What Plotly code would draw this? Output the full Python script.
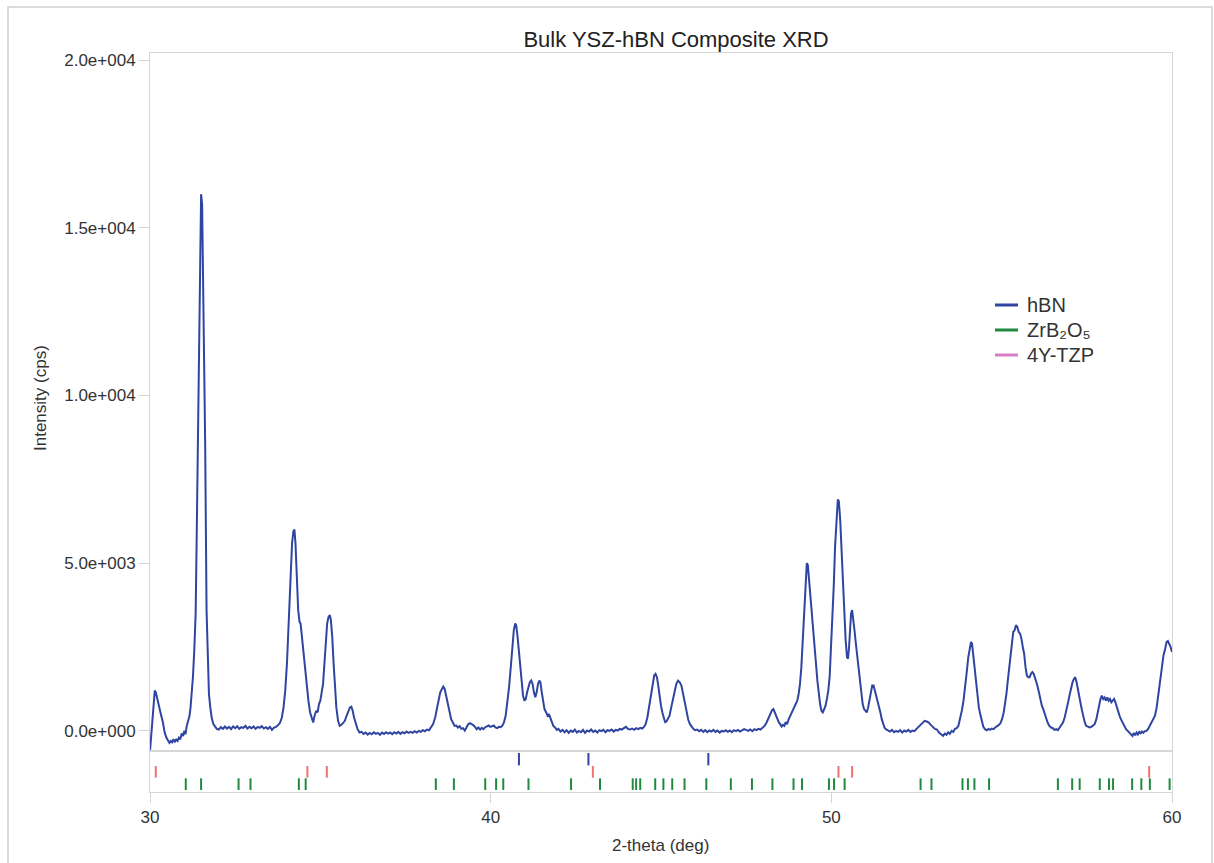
import plotly.graph_objects as go

# ---------------- data ----------------
two_theta = [
30.00,30.03,30.06,30.10,30.14,30.17,30.21,30.25,30.29,30.33,30.38,30.43,30.48,30.53,30.57,30.61,30.65,30.69,30.73,30.77,
30.81,30.85,30.89,30.93,30.97,31.01,31.04,31.08,31.12,31.16,31.19,31.22,31.26,31.30,31.34,31.38,31.42,31.46,31.50,31.53,
31.56,31.59,31.62,31.66,31.70,31.73,31.77,31.81,31.86,31.91,31.96,32.02,32.08,32.14,32.20,32.26,32.32,32.38,32.44,32.50,
32.56,32.62,32.68,32.74,32.80,32.86,32.92,32.98,33.04,33.10,33.16,33.22,33.28,33.34,33.40,33.46,33.52,33.58,33.64,33.70,
33.76,33.82,33.87,33.92,33.97,34.02,34.07,34.12,34.17,34.21,34.24,34.27,34.31,34.35,34.39,34.42,34.46,34.51,34.55,34.60,
34.65,34.70,34.75,34.79,34.83,34.88,34.92,34.96,35.00,35.04,35.08,35.12,35.16,35.20,35.24,35.28,35.31,35.35,35.39,35.43,
35.47,35.52,35.57,35.62,35.67,35.72,35.77,35.82,35.87,35.91,35.95,35.99,36.04,36.09,36.15,36.21,36.27,36.33,36.39,36.45,
36.51,36.57,36.63,36.69,36.75,36.81,36.87,36.93,36.99,37.05,37.11,37.17,37.23,37.29,37.35,37.41,37.47,37.53,37.59,37.65,
37.71,37.77,37.83,37.89,37.95,38.01,38.07,38.13,38.19,38.25,38.31,38.37,38.42,38.47,38.52,38.57,38.61,38.65,38.69,38.74,
38.79,38.84,38.89,38.94,38.99,39.04,39.09,39.14,39.19,39.24,39.29,39.34,39.39,39.44,39.49,39.54,39.59,39.64,39.69,39.74,
39.79,39.84,39.89,39.94,39.99,40.04,40.09,40.14,40.19,40.24,40.29,40.34,40.39,40.44,40.49,40.54,40.59,40.64,40.68,40.72,
40.75,40.79,40.83,40.87,40.91,40.95,40.99,41.03,41.07,41.11,41.15,41.19,41.23,41.27,41.31,41.35,41.39,41.43,41.46,41.50,
41.54,41.58,41.63,41.67,41.71,41.75,41.79,41.84,41.89,41.94,41.99,42.05,42.11,42.17,42.23,42.29,42.35,42.41,42.47,42.53,
42.59,42.65,42.71,42.77,42.83,42.89,42.95,43.01,43.07,43.13,43.19,43.25,43.31,43.37,43.43,43.49,43.55,43.61,43.67,43.73,
43.79,43.85,43.91,43.97,44.03,44.09,44.15,44.21,44.27,44.33,44.39,44.45,44.50,44.55,44.60,44.65,44.70,44.75,44.80,44.84,
44.88,44.92,44.96,45.00,45.04,45.08,45.12,45.16,45.20,45.25,45.30,45.35,45.40,45.45,45.50,45.55,45.60,45.65,45.70,45.75,
45.80,45.85,45.90,45.95,46.00,46.06,46.12,46.18,46.24,46.30,46.36,46.42,46.48,46.54,46.60,46.66,46.72,46.78,46.84,46.90,
46.96,47.02,47.08,47.14,47.20,47.26,47.32,47.38,47.44,47.50,47.56,47.62,47.68,47.74,47.80,47.86,47.92,47.98,48.04,48.10,
48.16,48.21,48.26,48.30,48.34,48.38,48.42,48.46,48.50,48.54,48.58,48.62,48.66,48.70,48.75,48.80,48.85,48.90,48.95,49.00,
49.04,49.08,49.12,49.16,49.20,49.24,49.28,49.31,49.35,49.39,49.43,49.47,49.51,49.55,49.59,49.63,49.67,49.71,49.75,49.79,
49.83,49.87,49.91,49.95,49.99,50.03,50.07,50.11,50.15,50.19,50.22,50.26,50.30,50.34,50.38,50.42,50.46,50.49,50.52,50.55,
50.58,50.61,50.64,50.68,50.72,50.76,50.80,50.84,50.88,50.92,50.96,51.00,51.04,51.08,51.12,51.16,51.20,51.24,51.28,51.32,
51.36,51.40,51.44,51.48,51.52,51.56,51.60,51.66,51.72,51.78,51.84,51.90,51.96,52.02,52.08,52.14,52.20,52.26,52.32,52.38,
52.44,52.50,52.56,52.62,52.68,52.74,52.80,52.86,52.92,52.98,53.04,53.10,53.16,53.22,53.28,53.33,53.38,53.43,53.48,53.53,
53.58,53.63,53.68,53.73,53.78,53.83,53.88,53.93,53.98,54.02,54.06,54.10,54.13,54.17,54.21,54.25,54.29,54.33,54.37,54.41,
54.46,54.51,54.56,54.61,54.66,54.71,54.76,54.81,54.86,54.91,54.96,55.01,55.06,55.10,55.14,55.18,55.22,55.26,55.30,55.34,
55.38,55.42,55.46,55.50,55.54,55.58,55.62,55.66,55.70,55.74,55.78,55.82,55.86,55.90,55.94,55.98,56.02,56.06,56.10,56.14,
56.18,56.22,56.26,56.30,56.35,56.40,56.45,56.50,56.55,56.60,56.65,56.70,56.75,56.80,56.85,56.90,56.95,57.00,57.04,57.08,
57.12,57.16,57.20,57.24,57.28,57.32,57.36,57.40,57.44,57.48,57.53,57.58,57.63,57.68,57.73,57.78,57.82,57.86,57.90,57.94,
57.98,58.02,58.06,58.10,58.14,58.18,58.22,58.26,58.30,58.34,58.38,58.42,58.46,58.50,58.55,58.60,58.65,58.70,58.75,58.80,
58.84,58.88,58.92,58.96,59.00,59.04,59.08,59.12,59.16,59.20,59.25,59.30,59.35,59.40,59.45,59.50,59.55,59.60,59.65,59.70,
59.75,59.80,59.84,59.88,59.92,59.96,60.00]

intensity = [
-600,-200,400,950,1200,1150,950,800,600,450,250,-50,-200,-300,-360,-300,-340,-250,-320,-260,
-300,-200,-250,-80,-150,0,-100,150,330,450,700,1000,1600,2400,3500,6500,10000,14000,16000,15700,
13500,11500,8500,3600,1600,1100,700,400,200,120,60,40,110,60,130,70,120,50,130,80,
140,60,110,90,150,70,120,80,130,60,120,90,140,70,110,60,120,30,100,120,
170,250,400,700,1200,2000,3200,4600,5600,5950,6000,5600,4600,3600,3250,3200,2800,2300,1850,1300,
900,550,350,250,450,600,550,800,900,1100,1400,2000,2700,3200,3400,3450,3300,2800,2000,1300,
700,300,150,180,250,300,450,600,700,720,600,400,200,60,-50,-30,-90,-50,-110,-60,
-100,-40,-90,-60,-120,-50,-90,-40,-80,-50,-100,-40,-80,-30,-90,-40,-70,-20,-60,-30,
-60,-10,-50,0,-30,20,-10,40,20,100,200,400,650,950,1150,1250,1320,1250,1050,800,
550,350,250,150,160,100,140,60,80,10,100,200,230,210,170,120,50,100,40,90,
50,110,130,160,120,140,160,100,80,120,110,150,250,450,800,1300,1900,2600,3000,3200,
3150,2800,2300,1800,1400,1050,900,950,1150,1300,1450,1500,1400,1150,1000,1150,1400,1500,1450,1150,
850,650,550,450,500,380,250,150,100,30,60,-20,30,-40,20,-60,10,-30,40,-50,
0,-40,30,-60,10,-20,40,-30,10,-50,20,-10,30,-40,20,0,40,-20,30,10,
60,40,80,120,60,40,70,30,80,50,90,70,120,200,400,700,1050,1400,1650,1700,
1600,1350,1000,750,550,350,260,280,350,450,700,950,1200,1400,1500,1450,1350,1100,800,500,
330,200,120,60,20,40,-10,30,-30,20,-40,10,-20,30,-30,10,-50,0,-20,20,
-30,10,-40,20,-10,30,-20,10,50,30,0,40,-10,50,20,60,40,90,150,250,
400,520,620,650,550,400,300,250,200,130,180,150,260,200,350,450,550,650,750,900,
1100,1400,1900,2700,3800,4600,5000,4950,4500,4000,3500,3000,2500,2000,1500,1100,800,600,550,650,
750,950,1200,1600,2400,3300,4300,5500,6400,6900,6850,6300,5400,4400,3500,2700,2200,2150,2500,3100,
3500,3600,3400,3000,2600,2200,1800,1400,1000,800,650,580,550,700,950,1200,1350,1350,1200,1000,
900,750,550,350,200,100,50,20,-20,30,-40,0,-30,20,-50,10,-20,30,-30,10,
-10,60,120,200,250,300,280,250,180,120,60,40,-50,-100,-150,-80,-120,-40,-90,0,
-30,60,80,150,350,600,900,1300,1800,2200,2500,2650,2600,2200,1700,1300,1000,700,500,300,
130,50,20,60,30,70,50,100,130,170,220,350,550,800,1100,1500,1900,2300,2700,2950,
3000,3150,3100,2950,2900,2750,2500,2300,1900,1650,1600,1600,1700,1750,1700,1600,1450,1300,1100,900,
750,650,550,400,250,150,100,80,30,50,20,100,150,250,400,600,850,1100,1300,1450,
1550,1600,1450,1200,1000,800,600,400,250,150,120,100,120,150,200,350,550,800,950,1050,
950,1000,900,1000,900,950,850,900,950,850,700,550,450,350,250,150,50,0,-60,-100,
-150,-60,-130,-50,-110,-30,-70,-20,-60,-10,0,60,150,250,350,450,700,1100,1500,1950,
2250,2450,2650,2680,2600,2500,2350]

# reference-pattern stick positions (2-theta, deg)
hbn_sticks = [40.83, 42.87, 46.39]
tzp_sticks = [30.17, 34.62, 35.19, 43.00, 50.21, 50.61, 59.33]
zrb_sticks = [31.05, 31.50, 32.60, 32.95, 34.37, 34.57, 38.39, 38.92, 39.84, 40.16,
              40.37, 41.11, 42.36, 43.21, 44.17, 44.27, 44.39, 44.83, 45.07, 45.33,
              45.69, 46.33, 47.05, 47.67, 48.27, 48.89, 49.14, 49.93, 50.08, 50.39,
              52.62, 52.94, 53.85, 54.01, 54.20, 54.63, 56.65, 57.07, 57.29, 57.88,
              58.15, 58.27, 58.83, 59.10, 59.35, 59.93]

y_tickvals = [0, 5000, 10000, 15000, 20000]
y_ticktext = ["0.0e+000", "5.0e+003", "1.0e+004", "1.5e+004", "2.0e+004"]
x_tickvals = [30, 40, 50, 60]
legend_names = ["hBN", "ZrB₂O₅", "4Y-TZP"]
legend_colors = ["#2f45a0", "#1f8a3d", "#d77fc4"]

# ---------------- style ----------------
BLUE = "#2f45a0"
GREEN = "#1f8a3d"
RED = "#f07272"
FRAME = "#d6d6d6"
FONT = "Liberation Sans, Arial, sans-serif"

# plot area in pixels (for placing paper-referenced items)
L, R, T, B = 150, 1172, 53, 792


def px(xp):
    return (xp - L) / (R - L)


def py(yp):
    return (B - yp) / (B - T)


def stick_xy(positions, lo, hi):
    xs, ys = [], []
    for p in positions:
        xs += [p, p, None]
        ys += [lo, hi, None]
    return xs, ys


fig = go.Figure()

fig.add_trace(go.Scatter(x=two_theta, y=intensity, mode="lines", name="Bulk YSZ-hBN",
                         line=dict(color=BLUE, width=2), showlegend=False,
                         xaxis="x", yaxis="y", hoverinfo="skip"))

for pos, lo, hi, col, nm in [(hbn_sticks, 1.95, 2.85, BLUE, "hBN"),
                             (tzp_sticks, 1.05, 1.90, RED, "4Y-TZP"),
                             (zrb_sticks, 0.15, 1.00, GREEN, "ZrB₂O₅")]:
    xs, ys = stick_xy(pos, lo, hi)
    fig.add_trace(go.Scatter(x=xs, y=ys, mode="lines", line=dict(color=col, width=2),
                             name=nm, showlegend=False, xaxis="x2", yaxis="y2",
                             hoverinfo="skip"))

# legend drawn as short lines + labels
legend_shapes, legend_annots = [], []
for i, (name, col) in enumerate(zip(legend_names, legend_colors)):
    yrow = 305 + 25 * i
    legend_shapes.append(dict(type="line", xref="paper", yref="paper",
                              x0=px(995), x1=px(1018), y0=py(yrow), y1=py(yrow),
                              line=dict(color=col, width=3)))
    legend_annots.append(dict(text=name, xref="paper", yref="paper",
                              x=px(1025), y=py(yrow), xanchor="left", yanchor="middle",
                              showarrow=False,
                              font=dict(family=FONT, size=20, color="#333333")))

split = 41 / 739

fig.update_layout(
    width=1214, height=863,
    margin=dict(l=L, r=1214 - R, t=T, b=863 - B),
    paper_bgcolor="white", plot_bgcolor="white",
    font=dict(family=FONT, size=17, color="#333333"),
    title=dict(text="Bulk YSZ-hBN Composite XRD", x=676 / 1214, xanchor="center",
               y=1 - 39 / 863, yanchor="middle",
               font=dict(family=FONT, size=22, color="#222222")),
    showlegend=False,
    xaxis=dict(domain=[0, 1], anchor="y", range=[30, 60], matches="x2",
               showline=True, mirror=True, linecolor=FRAME, linewidth=1,
               showticklabels=False, ticks="", showgrid=False, zeroline=False),
    yaxis=dict(domain=[split, 1], anchor="x", range=[-600, 20210],
               tickvals=y_tickvals, ticktext=y_ticktext,
               ticks="outside", ticklen=10, tickcolor=FRAME,
               showline=True, mirror=True, linecolor=FRAME, linewidth=1,
               showgrid=False, zeroline=False),
    xaxis2=dict(domain=[0, 1], anchor="y2", range=[30, 60],
                tickvals=x_tickvals, ticks="outside", ticklen=10, tickcolor=FRAME,
                showline=True, mirror=True, linecolor=FRAME, linewidth=1,
                showgrid=False, zeroline=False),
    yaxis2=dict(domain=[0, split], anchor="x2", range=[0, 3],
                showticklabels=False, ticks="", showline=True, mirror=True,
                linecolor=FRAME, linewidth=1, showgrid=False, zeroline=False),
    annotations=[
        dict(text="Intensity (cps)", xref="paper", yref="paper",
             x=px(40), y=py(398), textangle=-90,
             showarrow=False, xanchor="center", yanchor="middle",
             font=dict(family=FONT, size=17, color="#333333")),
        dict(text="2-theta (deg)", xref="paper", yref="paper",
             x=px(660), y=py(845), showarrow=False,
             xanchor="center", yanchor="middle",
             font=dict(family=FONT, size=17, color="#333333")),
    ] + legend_annots,
    shapes=[dict(type="rect", xref="paper", yref="paper",
                 x0=px(8), x1=px(1212), y0=py(880), y1=py(7),
                 line=dict(color="#cfcfcf", width=1.5), fillcolor="rgba(0,0,0,0)",
                 layer="below")] + legend_shapes,
)

fig.write_html("out.html")
